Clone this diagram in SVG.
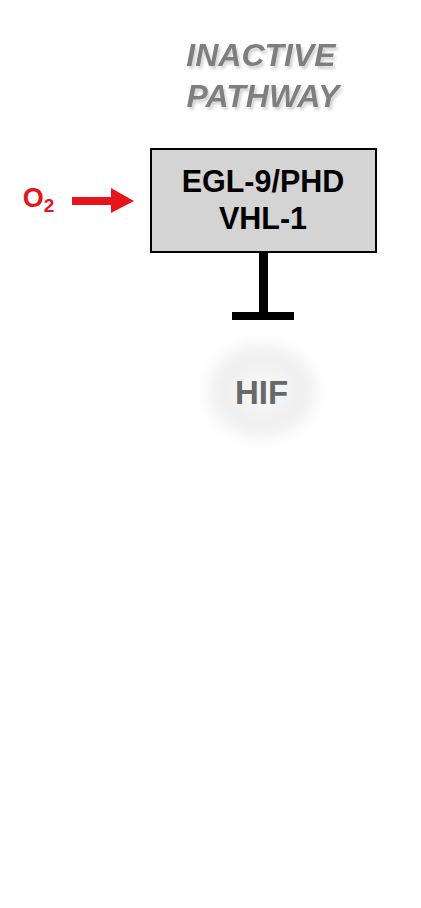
<svg xmlns="http://www.w3.org/2000/svg" width="421" height="908" viewBox="0 0 421 908">
<style>
.t{font-family:"Liberation Sans",Arial,sans-serif;font-weight:bold;text-anchor:middle}
.title{font-size:32px;font-style:italic;fill:#7f7f7f}
.box{fill:#d4d4d4;stroke:#000;stroke-width:2}
.lbl{font-size:30.5px;fill:#000}
.red{fill:#e8141b}
</style>
<defs>
<filter id="sh" x="-20%" y="-20%" width="140%" height="160%">
<feGaussianBlur in="SourceAlpha" stdDeviation="1.5"/>
<feOffset dx="2" dy="3" result="b"/>
<feComponentTransfer in="b" result="c"><feFuncA type="linear" slope="0.18"/></feComponentTransfer>
<feMerge><feMergeNode in="c"/><feMergeNode in="SourceGraphic"/></feMerge>
</filter>
<filter id="blur" x="-50%" y="-50%" width="200%" height="200%">
<feGaussianBlur stdDeviation="8"/>
</filter>
<radialGradient id="hg" cx="0.5" cy="0.5" r="0.5">
<stop offset="0" stop-color="#f8f8f8"/>
<stop offset="0.75" stop-color="#f0f0f0"/>
<stop offset="1" stop-color="#e9e9e9"/>
</radialGradient>
</defs>
<rect width="421" height="908" fill="#fff"/>
<g id="title" filter="url(#sh)">
<text class="t title" x="261" y="66">INACTIVE</text>
<text class="t title" x="263" y="107">PATHWAY</text>
</g>
<g id="o2">
<text class="t red" x="38.5" y="207" font-size="27">O<tspan font-size="19" dy="5">2</tspan></text>
</g>
<g id="enzyme">
<rect class="box" x="151" y="149" width="225" height="103"/>
<text class="t lbl" x="263" y="192">EGL-9/PHD</text>
<text class="t lbl" x="263" y="229">VHL-1</text>
</g>
<g id="hif">
<ellipse cx="262" cy="391" rx="52" ry="45" fill="url(#hg)" filter="url(#blur)"/>
<text class="t" x="261.5" y="404" font-size="33" fill="#686868">HIF</text>
</g>
<g id="connectors">
<path d="M72 197 H111 V188 L134 201 L111 213 V205 H72 Z" fill="#e8141b"/>
<rect x="259" y="252" width="9" height="61" fill="#000"/>
<rect x="232" y="312" width="62" height="8" fill="#000"/>
</g>
</svg>
